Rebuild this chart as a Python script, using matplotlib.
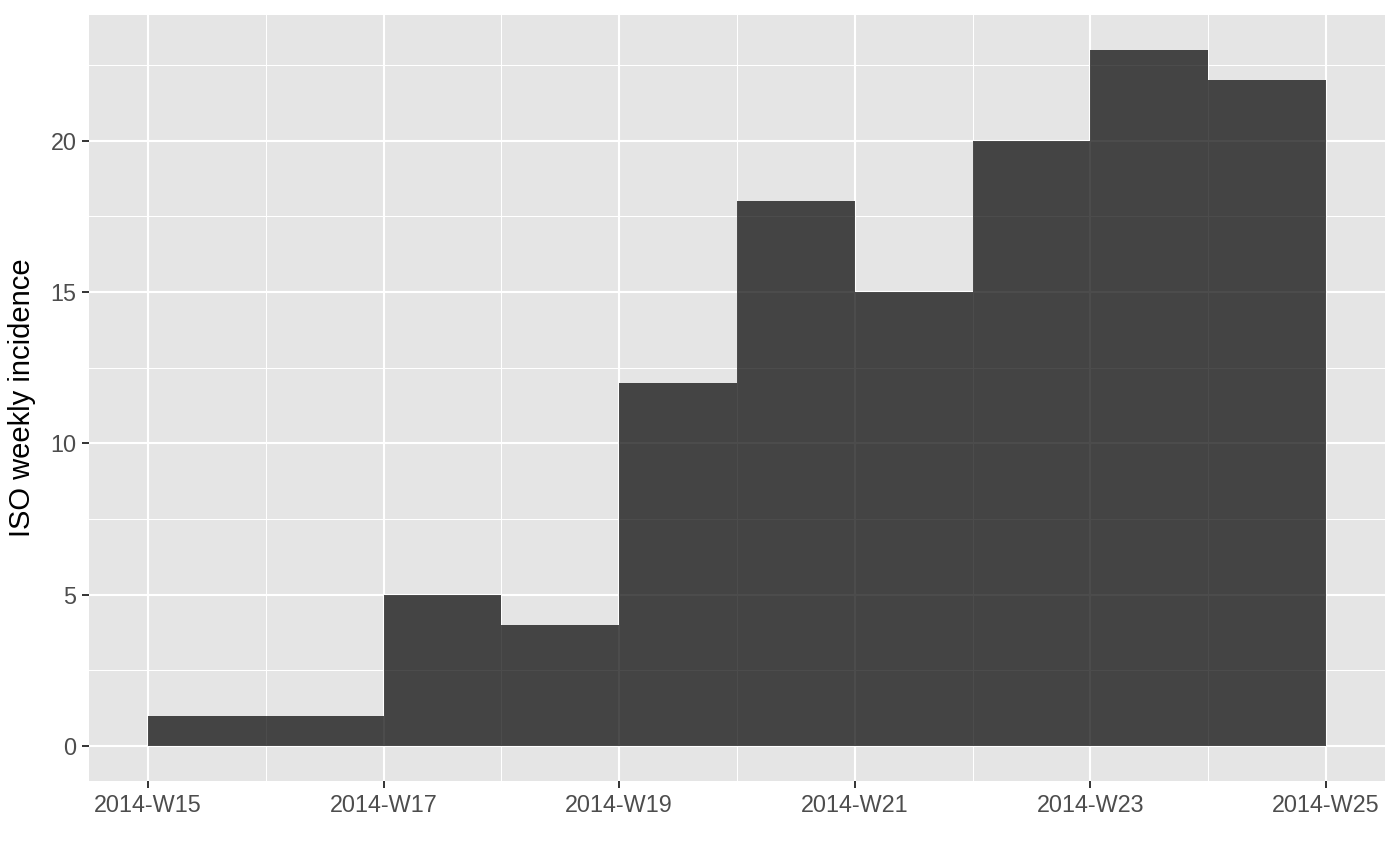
import matplotlib
matplotlib.use("Agg")
import matplotlib.pyplot as plt
import numpy as np

# datos semanales (semana ISO de inicio y casos)
weeks = [15, 16, 17, 18, 19, 20, 21, 22, 23, 24]
counts = [1, 1, 5, 4, 12, 18, 15, 20, 23, 22]
xtick_weeks = [15, 17, 19, 21, 23, 25]
xtick_labels = ["2014-W%d" % w for w in xtick_weeks]
yticks = [0, 5, 10, 15, 20]

plt.rcParams['font.family'] = ['Liberation Sans', 'DejaVu Sans']

fig = plt.figure(figsize=(14, 8.66), dpi=100)
ax = fig.add_axes([89 / 1400, 1 - 781 / 866, (1385 - 89) / 1400, (781 - 15) / 866])

ax.set_facecolor('#E5E5E5')
ax.bar(weeks, counts, width=1.0, align='edge', color='black', alpha=0.7, linewidth=0)

# ejes estilo ggplot
ax.set_xlim(14.5, 25.5)
ax.set_ylim(-1.15, 24.15)
ax.set_xticks(xtick_weeks)
ax.set_xticklabels(xtick_labels)
ax.set_xticks(np.arange(16, 25, 2), minor=True)
ax.set_yticks(yticks)
ax.set_yticks(np.arange(2.5, 24, 5), minor=True)

ax.set_axisbelow(True)
ax.grid(which='major', color='white', linewidth=1.5)
ax.grid(which='minor', color='white', linewidth=0.75)

for s in ax.spines.values():
    s.set_visible(False)

ax.tick_params(which='major', length=5, width=1.4, color='#333333',
               labelsize=16.8, labelcolor='#4D4D4D', pad=4)
ax.tick_params(which='minor', length=0)

ax.set_ylabel('ISO weekly incidence', fontsize=21, color='black', labelpad=10)

fig.savefig('out.png', dpi=100, facecolor='white')
